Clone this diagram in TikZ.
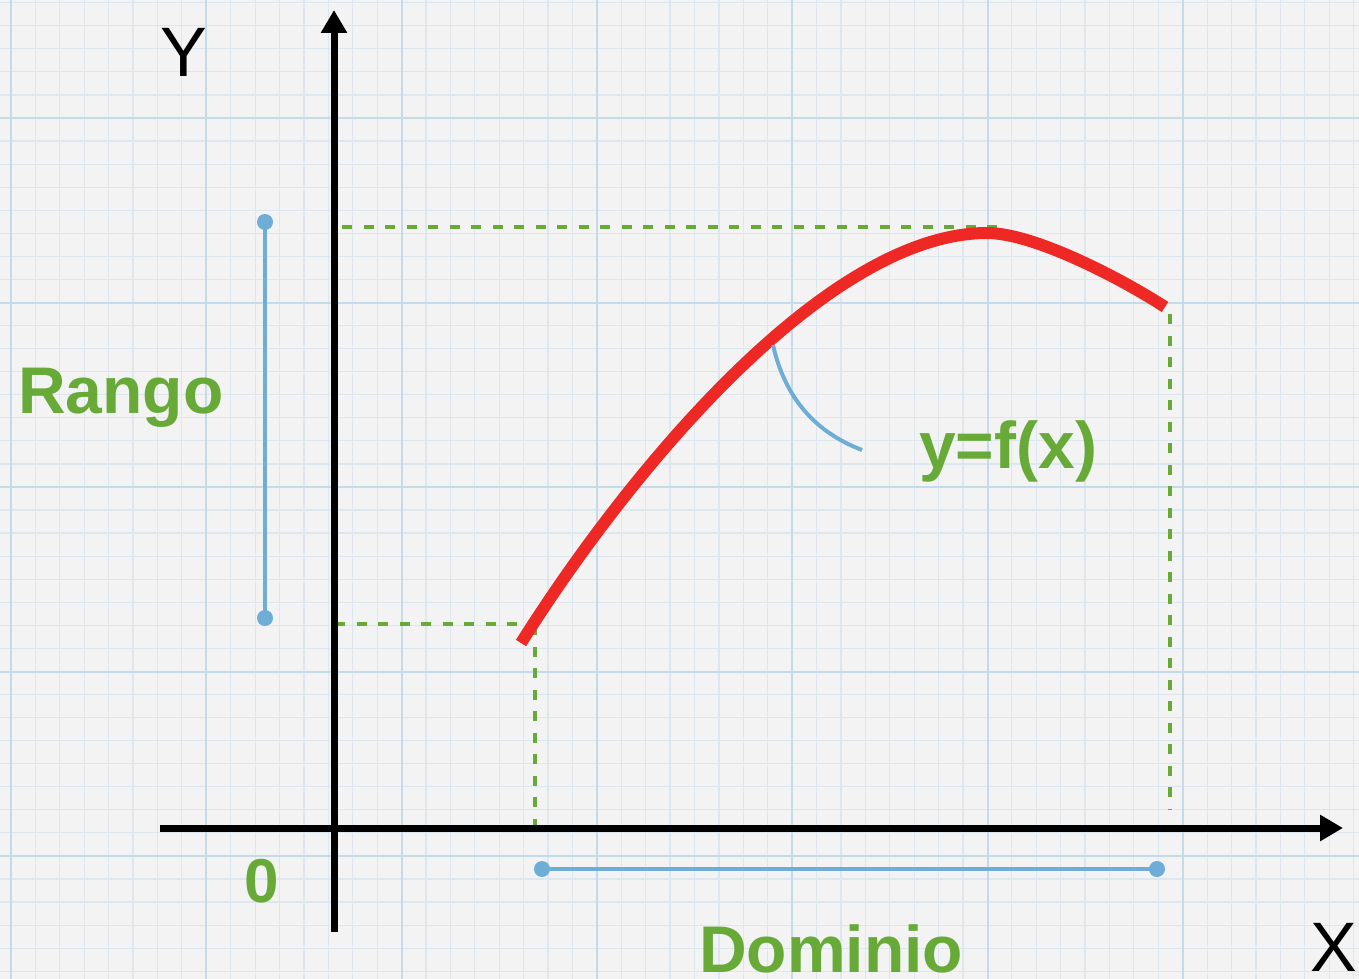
\documentclass[tikz,border=0pt]{standalone}
\usepackage{fontspec}
\setmainfont{Liberation Sans}
\usetikzlibrary{arrows.meta}
\definecolor{gridbg}{RGB}{243,243,243}
\definecolor{gridminor}{RGB}{221,231,239}
\definecolor{gridmajor}{RGB}{196,219,234}
\definecolor{lblue}{RGB}{110,174,214}
\definecolor{lgreen}{RGB}{104,170,56}
\definecolor{cred}{RGB}{238,40,36}
\tikzset{
  axisline/.style={line width=7pt, draw=black, -{Triangle[length=23pt,width=25pt]}},
  guide/.style={line width=4.5pt, draw=lgreen, dash pattern=on 10pt off 11.5pt},
  bracket/.style={line width=4pt, draw=lblue},
  enddot/.style={circle, fill=lblue, minimum size=16pt, inner sep=0pt},
  greenlabel/.style={text=lgreen, inner sep=0pt, font=\fontsize{66}{78}\selectfont\bfseries},
  axislabel/.style={text=black, inner sep=0pt, font=\fontsize{70}{84}\selectfont},
}
\begin{document}
\begin{tikzpicture}[x=1pt,y=-1pt]
\fill[gridbg] (0,0) rectangle (1359,979);
\useasboundingbox (0,0) rectangle (1359,979);
\begin{scope}
\clip (0,0) rectangle (1359,979);
\foreach \i in {-1,...,56} {
  \draw[gridminor, line width=1.2pt] ({11+24.41*\i},0) -- ({11+24.41*\i},979);
}
\foreach \j in {-6,...,38} {
  \draw[gridminor, line width=1.2pt] (0,{118+23.06*\j}) -- (1359,{118+23.06*\j});
}
\foreach \i in {0,...,6} {
  \draw[gridmajor, line width=2pt] ({11+195.3*\i},0) -- ({11+195.3*\i},979);
}
\foreach \j in {-1,...,5} {
  \draw[gridmajor, line width=2pt] (0,{118+184.5*\j}) -- (1359,{118+184.5*\j});
}
\end{scope}

% coordinates
\coordinate (ybot) at (334,932);
\coordinate (ytop) at (334,10);
\coordinate (xleft) at (160,828);
\coordinate (xright) at (1343,828);
\coordinate (c0) at (521,643);
\coordinate (cpk) at (987,233);
\coordinate (c1) at (1165,307);
\coordinate (ptop) at (342,227);
\coordinate (ptopr) at (1005,227);
\coordinate (plow) at (335,624);
\coordinate (plowr) at (537,624);
\coordinate (vl0) at (535,625);
\coordinate (vl1) at (535,828);
\coordinate (vr0) at (1170,314);
\coordinate (vr1) at (1170,810);

% green guides
\draw[guide] (ptop) -- (ptopr);
\draw[guide] (plow) -- (plowr);
\draw[guide] (vl0) -- (vl1);
\draw[guide] (vr0) -- (vr1);

% blue brackets
\node[enddot] (r0) at (265,222) {};
\node[enddot] (r1) at (265,618) {};
\draw[bracket] (r0.center) -- (r1.center);
\node[enddot] (d0) at (542,869) {};
\node[enddot] (d1) at (1157,869) {};
\draw[bracket] (d0.center) -- (d1.center);

% axes
\draw[axisline] (ybot) -- (ytop);
\draw[axisline] (xleft) -- (xright);

% function curve
\draw[cred, line width=12pt, line cap=butt]
  (c0) .. controls (632,467) and (828,233) .. (cpk)
       .. controls (1037,233) and (1130,284) .. (c1);

% pointer
\coordinate (p0) at (773,345);
\coordinate (p1) at (862,450);
\draw[bracket] (p0) .. controls (785,398) and (815,432) .. (p1);

% labels
\node[axislabel, anchor=base] (ylab) at (184,77) {Y};
\node[axislabel, anchor=base] (xlab) at (1334,971) {X};
\node[greenlabel, anchor=base west] (rango) at (18,413) {Rango};
\node[greenlabel, anchor=base west] (dominio) at (699,972) {Dominio};
\node[greenlabel, anchor=base west] (fx) at (919,468) {y=f(x)};
\node[text=lgreen, inner sep=0pt, font=\fontsize{62}{74}\selectfont\bfseries, anchor=base] (zero) at (261.5,902) {0};
\end{tikzpicture}
\end{document}
